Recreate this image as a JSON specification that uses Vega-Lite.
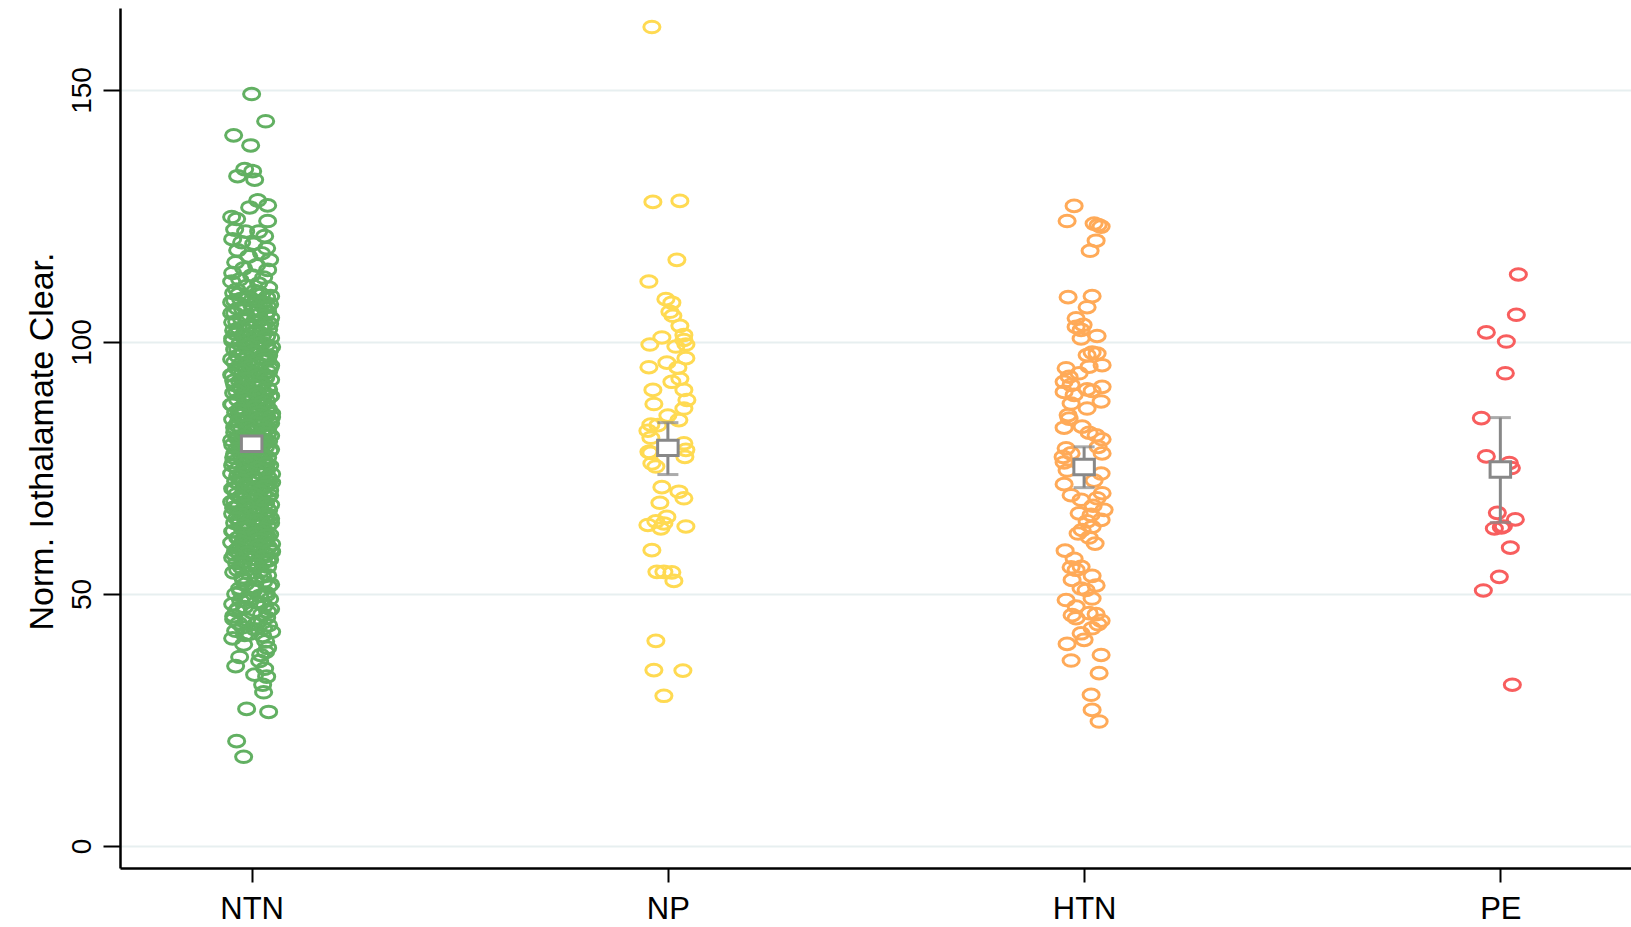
{
  "$schema": "https://vega.github.io/schema/vega-lite/v6.json",
  "width": 1512,
  "height": 860,
  "autosize": {"type": "none"},
  "padding": {"left": 120, "top": 8, "right": 0, "bottom": 59},
  "background": "white",
  "config": {
    "view": {"stroke": null},
    "font": "Liberation Sans",
    "axis": {"labelColor": "black", "titleColor": "black", "domainColor": "black", "tickColor": "black"}
  },
  "datasets": {
    "pts": [
      {"g":"NTN","v":149.2,"j":0},{"g":"NTN","v":143.8,"j":14},{"g":"NTN","v":141.0,"j":-18},{"g":"NTN","v":139.0,"j":-1},
      {"g":"NTN","v":134.3,"j":-7},{"g":"NTN","v":133.9,"j":1},{"g":"NTN","v":132.9,"j":-14},{"g":"NTN","v":132.2,"j":3},
      {"g":"NTN","v":128.1,"j":6},{"g":"NTN","v":127.1,"j":16},{"g":"NTN","v":126.7,"j":-2},{"g":"NTN","v":124.8,"j":-20},
      {"g":"NTN","v":124.4,"j":-15},{"g":"NTN","v":124.0,"j":16},{"g":"NTN","v":122.3,"j":-17},{"g":"NTN","v":121.9,"j":-6},
      {"g":"NTN","v":121.9,"j":7},{"g":"NTN","v":121.0,"j":13},{"g":"NTN","v":120.4,"j":-19},{"g":"NTN","v":119.8,"j":-10},
      {"g":"NTN","v":119.5,"j":2},{"g":"NTN","v":118.6,"j":15},{"g":"NTN","v":118.2,"j":-14},{"g":"NTN","v":117.6,"j":10},
      {"g":"NTN","v":117.0,"j":-3},{"g":"NTN","v":116.3,"j":18},{"g":"NTN","v":115.8,"j":-16},{"g":"NTN","v":115.2,"j":5},
      {"g":"NTN","v":114.6,"j":-8},{"g":"NTN","v":114.3,"j":16},{"g":"NTN","v":113.7,"j":-19},{"g":"NTN","v":113.2,"j":0},
      {"g":"NTN","v":112.8,"j":12},{"g":"NTN","v":112.4,"j":-12},{"g":"NTN","v":112.0,"j":-20},{"g":"NTN","v":111.6,"j":7},
      {"g":"NTN","v":111.1,"j":-5},{"g":"NTN","v":110.8,"j":17},{"g":"NTN","v":110.4,"j":-15},{"g":"NTN","v":110.1,"j":3},
      {"g":"NTN","v":109.7,"j":-18},{"g":"NTN","v":109.4,"j":10},{"g":"NTN","v":109.0,"j":-3},{"g":"NTN","v":108.8,"j":15},
      {"g":"NTN","v":108.5,"j":-11},{"g":"NTN","v":108.1,"j":5},{"g":"NTN","v":107.9,"j":-20},{"g":"NTN","v":107.5,"j":18},
      {"g":"NTN","v":107.2,"j":-7},{"g":"NTN","v":106.9,"j":12},{"g":"NTN","v":106.6,"j":-14},{"g":"NTN","v":106.3,"j":1},
      {"g":"NTN","v":106.0,"j":16},{"g":"NTN","v":105.7,"j":-17},{"g":"NTN","v":105.4,"j":7},{"g":"NTN","v":105.1,"j":-5},
      {"g":"NTN","v":104.8,"j":19},{"g":"NTN","v":104.5,"j":-10},{"g":"NTN","v":104.2,"j":3},{"g":"NTN","v":103.9,"j":-19},
      {"g":"NTN","v":103.6,"j":13},{"g":"NTN","v":103.3,"j":-2},{"g":"NTN","v":103.0,"j":9},{"g":"NTN","v":102.7,"j":-13},
      {"g":"NTN","v":102.5,"j":17},{"g":"NTN","v":102.2,"j":-6},{"g":"NTN","v":101.9,"j":4},{"g":"NTN","v":101.6,"j":-16},
      {"g":"NTN","v":101.3,"j":11},{"g":"NTN","v":101.1,"j":-9},{"g":"NTN","v":100.8,"j":19},{"g":"NTN","v":100.5,"j":-1},
      {"g":"NTN","v":100.2,"j":-19},{"g":"NTN","v":99.9,"j":8},{"g":"NTN","v":99.6,"j":-12},{"g":"NTN","v":99.4,"j":15},
      {"g":"NTN","v":99.1,"j":-4},{"g":"NTN","v":98.8,"j":6},{"g":"NTN","v":98.5,"j":-17},{"g":"NTN","v":98.3,"j":18},
      {"g":"NTN","v":98.0,"j":-8},{"g":"NTN","v":97.7,"j":1},{"g":"NTN","v":97.5,"j":12},{"g":"NTN","v":97.2,"j":-14},
      {"g":"NTN","v":96.9,"j":9},{"g":"NTN","v":96.6,"j":-20},{"g":"NTN","v":96.4,"j":16},{"g":"NTN","v":96.1,"j":-3},
      {"g":"NTN","v":95.8,"j":5},{"g":"NTN","v":95.6,"j":-11},{"g":"NTN","v":95.3,"j":19},{"g":"NTN","v":95.0,"j":-6},
      {"g":"NTN","v":94.8,"j":-15},{"g":"NTN","v":94.6,"j":8},{"g":"NTN","v":94.3,"j":-2},{"g":"NTN","v":94.1,"j":17},
      {"g":"NTN","v":93.9,"j":-9},{"g":"NTN","v":93.6,"j":12},{"g":"NTN","v":93.4,"j":-19},{"g":"NTN","v":93.2,"j":4},
      {"g":"NTN","v":92.9,"j":14},{"g":"NTN","v":92.7,"j":-6},{"g":"NTN","v":92.5,"j":19},{"g":"NTN","v":92.2,"j":-12},
      {"g":"NTN","v":92.0,"j":1},{"g":"NTN","v":91.8,"j":10},{"g":"NTN","v":91.5,"j":-17},{"g":"NTN","v":91.3,"j":6},
      {"g":"NTN","v":91.1,"j":-4},{"g":"NTN","v":90.8,"j":16},{"g":"NTN","v":90.6,"j":-10},{"g":"NTN","v":90.4,"j":11},
      {"g":"NTN","v":90.1,"j":3},{"g":"NTN","v":89.9,"j":-18},{"g":"NTN","v":89.7,"j":13},{"g":"NTN","v":89.5,"j":-7},
      {"g":"NTN","v":89.2,"j":18},{"g":"NTN","v":89.0,"j":-1},{"g":"NTN","v":88.8,"j":9},{"g":"NTN","v":88.5,"j":-14},
      {"g":"NTN","v":88.3,"j":15},{"g":"NTN","v":88.1,"j":-5},{"g":"NTN","v":87.8,"j":7},{"g":"NTN","v":87.6,"j":-20},
      {"g":"NTN","v":87.4,"j":11},{"g":"NTN","v":87.2,"j":0},{"g":"NTN","v":86.9,"j":-11},{"g":"NTN","v":86.7,"j":17},
      {"g":"NTN","v":86.5,"j":-8},{"g":"NTN","v":86.2,"j":5},{"g":"NTN","v":86.0,"j":-16},{"g":"NTN","v":85.8,"j":20},
      {"g":"NTN","v":85.6,"j":-12},{"g":"NTN","v":85.3,"j":15},{"g":"NTN","v":85.1,"j":-4},{"g":"NTN","v":84.9,"j":9},
      {"g":"NTN","v":84.6,"j":-19},{"g":"NTN","v":84.4,"j":2},{"g":"NTN","v":84.2,"j":18},{"g":"NTN","v":84.0,"j":-8},
      {"g":"NTN","v":83.7,"j":12},{"g":"NTN","v":83.5,"j":-15},{"g":"NTN","v":83.3,"j":6},{"g":"NTN","v":83.0,"j":-1},
      {"g":"NTN","v":82.8,"j":16},{"g":"NTN","v":82.6,"j":-10},{"g":"NTN","v":82.4,"j":3},{"g":"NTN","v":82.1,"j":-17},
      {"g":"NTN","v":81.9,"j":10},{"g":"NTN","v":81.7,"j":-6},{"g":"NTN","v":81.4,"j":19},{"g":"NTN","v":81.2,"j":-13},
      {"g":"NTN","v":81.0,"j":-15},{"g":"NTN","v":80.8,"j":8},{"g":"NTN","v":80.5,"j":-2},{"g":"NTN","v":80.3,"j":17},
      {"g":"NTN","v":80.1,"j":-9},{"g":"NTN","v":79.8,"j":12},{"g":"NTN","v":79.6,"j":-19},{"g":"NTN","v":79.4,"j":4},
      {"g":"NTN","v":79.2,"j":14},{"g":"NTN","v":78.9,"j":-6},{"g":"NTN","v":78.7,"j":19},{"g":"NTN","v":78.5,"j":-12},
      {"g":"NTN","v":78.2,"j":1},{"g":"NTN","v":78.0,"j":10},{"g":"NTN","v":77.8,"j":-17},{"g":"NTN","v":77.6,"j":6},
      {"g":"NTN","v":77.3,"j":-4},{"g":"NTN","v":77.1,"j":16},{"g":"NTN","v":76.9,"j":-10},{"g":"NTN","v":76.6,"j":11},
      {"g":"NTN","v":76.4,"j":3},{"g":"NTN","v":76.2,"j":-18},{"g":"NTN","v":76.0,"j":13},{"g":"NTN","v":75.7,"j":-7},
      {"g":"NTN","v":75.5,"j":18},{"g":"NTN","v":75.3,"j":-1},{"g":"NTN","v":75.0,"j":9},{"g":"NTN","v":74.8,"j":-14},
      {"g":"NTN","v":74.6,"j":15},{"g":"NTN","v":74.4,"j":-5},{"g":"NTN","v":74.1,"j":7},{"g":"NTN","v":73.9,"j":-20},
      {"g":"NTN","v":73.7,"j":11},{"g":"NTN","v":73.4,"j":0},{"g":"NTN","v":73.2,"j":-11},{"g":"NTN","v":73.0,"j":17},
      {"g":"NTN","v":72.8,"j":-8},{"g":"NTN","v":72.5,"j":5},{"g":"NTN","v":72.3,"j":-16},{"g":"NTN","v":72.1,"j":20},
      {"g":"NTN","v":71.8,"j":-12},{"g":"NTN","v":71.6,"j":15},{"g":"NTN","v":71.4,"j":-4},{"g":"NTN","v":71.2,"j":9},
      {"g":"NTN","v":70.9,"j":-19},{"g":"NTN","v":70.7,"j":2},{"g":"NTN","v":70.5,"j":18},{"g":"NTN","v":70.2,"j":-8},
      {"g":"NTN","v":70.0,"j":12},{"g":"NTN","v":69.8,"j":-15},{"g":"NTN","v":69.6,"j":6},{"g":"NTN","v":69.3,"j":-1},
      {"g":"NTN","v":69.1,"j":16},{"g":"NTN","v":68.9,"j":-10},{"g":"NTN","v":68.6,"j":3},{"g":"NTN","v":68.4,"j":-17},
      {"g":"NTN","v":68.2,"j":10},{"g":"NTN","v":68.0,"j":-6},{"g":"NTN","v":67.7,"j":19},{"g":"NTN","v":67.5,"j":-13},
      {"g":"NTN","v":67.3,"j":-15},{"g":"NTN","v":67.0,"j":8},{"g":"NTN","v":66.8,"j":-2},{"g":"NTN","v":66.6,"j":17},
      {"g":"NTN","v":66.4,"j":-9},{"g":"NTN","v":66.1,"j":12},{"g":"NTN","v":65.9,"j":-19},{"g":"NTN","v":65.7,"j":4},
      {"g":"NTN","v":65.4,"j":14},{"g":"NTN","v":65.2,"j":-6},{"g":"NTN","v":65.0,"j":19},{"g":"NTN","v":64.8,"j":-12},
      {"g":"NTN","v":64.5,"j":1},{"g":"NTN","v":64.3,"j":10},{"g":"NTN","v":64.1,"j":-17},{"g":"NTN","v":63.8,"j":6},
      {"g":"NTN","v":63.6,"j":-4},{"g":"NTN","v":63.4,"j":16},{"g":"NTN","v":63.2,"j":-10},{"g":"NTN","v":62.9,"j":11},
      {"g":"NTN","v":62.7,"j":3},{"g":"NTN","v":62.5,"j":-18},{"g":"NTN","v":62.2,"j":13},{"g":"NTN","v":62.0,"j":-7},
      {"g":"NTN","v":61.8,"j":18},{"g":"NTN","v":61.6,"j":-1},{"g":"NTN","v":61.3,"j":9},{"g":"NTN","v":61.1,"j":-14},
      {"g":"NTN","v":60.9,"j":15},{"g":"NTN","v":60.6,"j":-5},{"g":"NTN","v":60.4,"j":7},{"g":"NTN","v":60.2,"j":-20},
      {"g":"NTN","v":60.0,"j":11},{"g":"NTN","v":59.7,"j":0},{"g":"NTN","v":59.5,"j":-11},{"g":"NTN","v":59.3,"j":17},
      {"g":"NTN","v":59.0,"j":-8},{"g":"NTN","v":58.8,"j":5},{"g":"NTN","v":58.6,"j":-16},{"g":"NTN","v":58.4,"j":20},
      {"g":"NTN","v":58.1,"j":-12},{"g":"NTN","v":57.9,"j":15},{"g":"NTN","v":57.7,"j":-4},{"g":"NTN","v":57.4,"j":9},
      {"g":"NTN","v":57.2,"j":-19},{"g":"NTN","v":57.0,"j":2},{"g":"NTN","v":56.8,"j":18},{"g":"NTN","v":56.5,"j":-8},
      {"g":"NTN","v":56.3,"j":12},{"g":"NTN","v":56.1,"j":-15},{"g":"NTN","v":55.8,"j":6},{"g":"NTN","v":55.6,"j":-1},
      {"g":"NTN","v":55.4,"j":16},{"g":"NTN","v":55.2,"j":-10},
      {"g":"NTN","v":109.9,"j":7},{"g":"NTN","v":109.5,"j":-13},{"g":"NTN","v":109.1,"j":19},{"g":"NTN","v":108.6,"j":-4},
      {"g":"NTN","v":108.2,"j":-17},{"g":"NTN","v":107.8,"j":12},{"g":"NTN","v":107.4,"j":0},{"g":"NTN","v":107.0,"j":16},
      {"g":"NTN","v":106.5,"j":-9},{"g":"NTN","v":106.1,"j":5},{"g":"NTN","v":105.7,"j":-20},{"g":"NTN","v":105.3,"j":14},
      {"g":"NTN","v":104.9,"j":-6},{"g":"NTN","v":104.4,"j":9},{"g":"NTN","v":104.0,"j":-15},{"g":"NTN","v":103.6,"j":18},
      {"g":"NTN","v":103.2,"j":-2},{"g":"NTN","v":102.8,"j":11},{"g":"NTN","v":102.3,"j":-18},{"g":"NTN","v":101.9,"j":3},
      {"g":"NTN","v":101.5,"j":-8},{"g":"NTN","v":101.1,"j":15},{"g":"NTN","v":100.7,"j":-19},{"g":"NTN","v":100.2,"j":6},
      {"g":"NTN","v":99.8,"j":11},{"g":"NTN","v":99.4,"j":-3},{"g":"NTN","v":99.0,"j":20},{"g":"NTN","v":98.6,"j":-14},
      {"g":"NTN","v":98.1,"j":2},{"g":"NTN","v":97.7,"j":-10},{"g":"NTN","v":97.3,"j":17},{"g":"NTN","v":96.9,"j":-6},
      {"g":"NTN","v":96.5,"j":13},{"g":"NTN","v":96.0,"j":-17},{"g":"NTN","v":95.6,"j":8},{"g":"NTN","v":95.2,"j":-1},
      {"g":"NTN","v":94.8,"j":18},{"g":"NTN","v":94.4,"j":-12},{"g":"NTN","v":93.9,"j":4},{"g":"NTN","v":93.5,"j":-20},
      {"g":"NTN","v":93.1,"j":14},{"g":"NTN","v":92.7,"j":-5},{"g":"NTN","v":92.3,"j":-18},{"g":"NTN","v":91.8,"j":9},
      {"g":"NTN","v":91.4,"j":1},{"g":"NTN","v":91.0,"j":-11},{"g":"NTN","v":90.6,"j":17},{"g":"NTN","v":90.2,"j":-15},
      {"g":"NTN","v":89.7,"j":6},{"g":"NTN","v":89.3,"j":19},{"g":"NTN","v":88.9,"j":-7},{"g":"NTN","v":88.5,"j":-2},
      {"g":"NTN","v":88.1,"j":12},{"g":"NTN","v":87.6,"j":-19},{"g":"NTN","v":87.2,"j":4},{"g":"NTN","v":86.8,"j":15},
      {"g":"NTN","v":86.4,"j":-13},{"g":"NTN","v":86.0,"j":8},{"g":"NTN","v":85.5,"j":-9},{"g":"NTN","v":85.1,"j":20},
      {"g":"NTN","v":84.7,"j":7},{"g":"NTN","v":84.3,"j":-13},{"g":"NTN","v":83.9,"j":19},{"g":"NTN","v":83.4,"j":-4},
      {"g":"NTN","v":83.0,"j":-17},{"g":"NTN","v":82.6,"j":12},{"g":"NTN","v":82.2,"j":0},{"g":"NTN","v":81.8,"j":16},
      {"g":"NTN","v":81.3,"j":-9},{"g":"NTN","v":80.9,"j":5},{"g":"NTN","v":80.5,"j":-20},{"g":"NTN","v":80.1,"j":14},
      {"g":"NTN","v":79.7,"j":-6},{"g":"NTN","v":79.2,"j":9},{"g":"NTN","v":78.8,"j":-15},{"g":"NTN","v":78.4,"j":18},
      {"g":"NTN","v":78.0,"j":-2},{"g":"NTN","v":77.6,"j":11},{"g":"NTN","v":77.1,"j":-18},{"g":"NTN","v":76.7,"j":3},
      {"g":"NTN","v":76.3,"j":-8},{"g":"NTN","v":75.9,"j":15},{"g":"NTN","v":75.5,"j":-19},{"g":"NTN","v":75.0,"j":6},
      {"g":"NTN","v":74.6,"j":11},{"g":"NTN","v":74.2,"j":-3},{"g":"NTN","v":73.8,"j":20},{"g":"NTN","v":73.4,"j":-14},
      {"g":"NTN","v":72.9,"j":2},{"g":"NTN","v":72.5,"j":-10},{"g":"NTN","v":72.1,"j":17},{"g":"NTN","v":71.7,"j":-6},
      {"g":"NTN","v":71.3,"j":13},{"g":"NTN","v":70.8,"j":-17},{"g":"NTN","v":70.4,"j":8},{"g":"NTN","v":70.0,"j":-1},
      {"g":"NTN","v":69.6,"j":18},{"g":"NTN","v":69.2,"j":-12},{"g":"NTN","v":68.7,"j":4},{"g":"NTN","v":68.3,"j":-20},
      {"g":"NTN","v":67.9,"j":14},{"g":"NTN","v":67.5,"j":-5},{"g":"NTN","v":67.1,"j":-18},{"g":"NTN","v":66.6,"j":9},
      {"g":"NTN","v":66.2,"j":1},{"g":"NTN","v":65.8,"j":-11},{"g":"NTN","v":65.4,"j":17},{"g":"NTN","v":65.0,"j":-15},
      {"g":"NTN","v":64.5,"j":6},{"g":"NTN","v":64.1,"j":19},{"g":"NTN","v":63.7,"j":-7},{"g":"NTN","v":63.3,"j":-2},
      {"g":"NTN","v":62.9,"j":12},{"g":"NTN","v":62.4,"j":-19},{"g":"NTN","v":62.0,"j":4},{"g":"NTN","v":61.6,"j":15},
      {"g":"NTN","v":61.2,"j":-13},{"g":"NTN","v":60.8,"j":8},{"g":"NTN","v":60.3,"j":-9},{"g":"NTN","v":59.9,"j":20},
      {"g":"NTN","v":59.5,"j":7},{"g":"NTN","v":59.1,"j":-13},{"g":"NTN","v":58.7,"j":19},{"g":"NTN","v":58.2,"j":-4},
      {"g":"NTN","v":57.8,"j":-17},{"g":"NTN","v":57.4,"j":12},{"g":"NTN","v":57.0,"j":0},{"g":"NTN","v":56.6,"j":16},
      {"g":"NTN","v":56.1,"j":-9},{"g":"NTN","v":55.7,"j":5},
      {"g":"NTN","v":54.8,"j":-14},{"g":"NTN","v":54.5,"j":9},{"g":"NTN","v":54.1,"j":-3},{"g":"NTN","v":53.7,"j":16},
      {"g":"NTN","v":53.3,"j":-9},{"g":"NTN","v":52.9,"j":4},{"g":"NTN","v":52.4,"j":12},{"g":"NTN","v":52.0,"j":-6},
      {"g":"NTN","v":51.5,"j":17},{"g":"NTN","v":51.1,"j":-12},{"g":"NTN","v":50.7,"j":2},{"g":"NTN","v":50.3,"j":14},
      {"g":"NTN","v":50.0,"j":-16},{"g":"NTN","v":49.6,"j":8},{"g":"NTN","v":49.3,"j":-4},{"g":"NTN","v":49.0,"j":18},
      {"g":"NTN","v":48.7,"j":-11},{"g":"NTN","v":48.4,"j":5},{"g":"NTN","v":48.0,"j":-19},{"g":"NTN","v":47.7,"j":13},
      {"g":"NTN","v":47.4,"j":-7},{"g":"NTN","v":47.0,"j":19},{"g":"NTN","v":46.7,"j":-15},{"g":"NTN","v":46.3,"j":1},
      {"g":"NTN","v":46.0,"j":10},{"g":"NTN","v":45.6,"j":-18},{"g":"NTN","v":45.3,"j":15},{"g":"NTN","v":44.9,"j":-5},
      {"g":"NTN","v":44.5,"j":7},{"g":"NTN","v":44.2,"j":-13},{"g":"NTN","v":43.8,"j":17},{"g":"NTN","v":43.4,"j":-9},
      {"g":"NTN","v":43.0,"j":3},{"g":"NTN","v":42.7,"j":-16},{"g":"NTN","v":42.5,"j":20},{"g":"NTN","v":42.1,"j":-2},
      {"g":"NTN","v":41.7,"j":11},{"g":"NTN","v":41.2,"j":-19},{"g":"NTN","v":40.6,"j":14},{"g":"NTN","v":40.0,"j":-8},
      {"g":"NTN","v":54.3,"j":-18},{"g":"NTN","v":53.5,"j":11},{"g":"NTN","v":52.7,"j":-8},{"g":"NTN","v":51.9,"j":19},
      {"g":"NTN","v":51.3,"j":3},{"g":"NTN","v":50.5,"j":-11},{"g":"NTN","v":49.8,"j":15},{"g":"NTN","v":48.9,"j":-2},
      {"g":"NTN","v":48.2,"j":9},{"g":"NTN","v":47.2,"j":-13},{"g":"NTN","v":46.5,"j":16},{"g":"NTN","v":45.0,"j":-18},
      {"g":"NTN","v":44.0,"j":4},{"g":"NTN","v":43.2,"j":12},{"g":"NTN","v":41.9,"j":-7},
      {"g":"NTN","v":39.3,"j":16},{"g":"NTN","v":38.5,"j":14},{"g":"NTN","v":37.9,"j":9},{"g":"NTN","v":37.5,"j":-12},
      {"g":"NTN","v":36.7,"j":8},{"g":"NTN","v":35.7,"j":-16},{"g":"NTN","v":35.2,"j":13},{"g":"NTN","v":34.0,"j":3},
      {"g":"NTN","v":33.6,"j":15},{"g":"NTN","v":32.0,"j":11},{"g":"NTN","v":30.5,"j":12},{"g":"NTN","v":27.2,"j":-5},
      {"g":"NTN","v":26.6,"j":17},{"g":"NTN","v":20.8,"j":-15},{"g":"NTN","v":17.7,"j":-8},

      {"g":"NP","v":162.5,"j":-16},{"g":"NP","v":127.8,"j":-15},{"g":"NP","v":128.0,"j":12},{"g":"NP","v":116.3,"j":9},
      {"g":"NP","v":112.0,"j":-19},{"g":"NP","v":108.5,"j":-2},{"g":"NP","v":107.8,"j":4},{"g":"NP","v":106.0,"j":2},
      {"g":"NP","v":105.2,"j":5},{"g":"NP","v":103.2,"j":12},{"g":"NP","v":101.4,"j":16},{"g":"NP","v":100.9,"j":-6},
      {"g":"NP","v":99.5,"j":-18},{"g":"NP","v":100.4,"j":16},{"g":"NP","v":99.5,"j":18},{"g":"NP","v":99.1,"j":8},
      {"g":"NP","v":96.8,"j":18},{"g":"NP","v":95.9,"j":-1},{"g":"NP","v":95.0,"j":-19},{"g":"NP","v":94.9,"j":10},
      {"g":"NP","v":92.7,"j":12},{"g":"NP","v":92.1,"j":4},{"g":"NP","v":90.5,"j":-15},{"g":"NP","v":90.5,"j":16},
      {"g":"NP","v":88.5,"j":19},{"g":"NP","v":87.7,"j":-14},{"g":"NP","v":86.8,"j":16},{"g":"NP","v":85.4,"j":0},
      {"g":"NP","v":84.5,"j":11},{"g":"NP","v":83.6,"j":-17},{"g":"NP","v":83.5,"j":-10},{"g":"NP","v":82.4,"j":-20},
      {"g":"NP","v":81.0,"j":-17},{"g":"NP","v":79.9,"j":16},{"g":"NP","v":78.6,"j":18},{"g":"NP","v":78.2,"j":-19},
      {"g":"NP","v":78.0,"j":-17},{"g":"NP","v":77.2,"j":17},{"g":"NP","v":75.9,"j":-16},{"g":"NP","v":75.3,"j":-12},
      {"g":"NP","v":71.2,"j":-6},{"g":"NP","v":70.3,"j":11},{"g":"NP","v":69.0,"j":16},{"g":"NP","v":68.1,"j":-8},
      {"g":"NP","v":65.3,"j":-1},{"g":"NP","v":64.4,"j":-12},{"g":"NP","v":63.7,"j":-20},{"g":"NP","v":64.0,"j":-4},
      {"g":"NP","v":63.0,"j":-7},{"g":"NP","v":63.4,"j":18},{"g":"NP","v":58.7,"j":-16},{"g":"NP","v":54.4,"j":-11},
      {"g":"NP","v":54.4,"j":-4},{"g":"NP","v":54.3,"j":4},{"g":"NP","v":52.6,"j":6},{"g":"NP","v":40.7,"j":-12},
      {"g":"NP","v":34.9,"j":-14},{"g":"NP","v":34.8,"j":15},{"g":"NP","v":29.8,"j":-4},

      {"g":"HTN","v":127.0,"j":-10},{"g":"HTN","v":124.0,"j":-17},{"g":"HTN","v":123.5,"j":10},{"g":"HTN","v":123.2,"j":14},
      {"g":"HTN","v":122.9,"j":17},{"g":"HTN","v":120.1,"j":12},{"g":"HTN","v":118.1,"j":6},{"g":"HTN","v":108.9,"j":-16},
      {"g":"HTN","v":109.1,"j":8},{"g":"HTN","v":106.9,"j":3},{"g":"HTN","v":104.7,"j":-8},{"g":"HTN","v":103.4,"j":-1},
      {"g":"HTN","v":103.0,"j":-8},{"g":"HTN","v":102.4,"j":-3},{"g":"HTN","v":101.2,"j":13},{"g":"HTN","v":100.7,"j":-3},
      {"g":"HTN","v":97.9,"j":8},{"g":"HTN","v":97.4,"j":3},{"g":"HTN","v":97.7,"j":13},{"g":"HTN","v":95.4,"j":18},
      {"g":"HTN","v":94.8,"j":-18},{"g":"HTN","v":95.1,"j":5},{"g":"HTN","v":93.8,"j":-5},{"g":"HTN","v":93.1,"j":-15},
      {"g":"HTN","v":92.1,"j":-20},{"g":"HTN","v":91.5,"j":-13},{"g":"HTN","v":91.1,"j":18},{"g":"HTN","v":90.6,"j":3},
      {"g":"HTN","v":90.1,"j":-20},{"g":"HTN","v":89.5,"j":-10},{"g":"HTN","v":90.3,"j":8},{"g":"HTN","v":88.2,"j":17},
      {"g":"HTN","v":87.8,"j":-13},{"g":"HTN","v":86.8,"j":3},{"g":"HTN","v":85.5,"j":-16},{"g":"HTN","v":84.8,"j":-15},
      {"g":"HTN","v":83.0,"j":-20},{"g":"HTN","v":83.2,"j":-2},{"g":"HTN","v":82.0,"j":5},{"g":"HTN","v":81.5,"j":12},
      {"g":"HTN","v":80.7,"j":18},{"g":"HTN","v":78.9,"j":-18},{"g":"HTN","v":79.2,"j":14},{"g":"HTN","v":77.9,"j":-13},
      {"g":"HTN","v":77.9,"j":18},{"g":"HTN","v":77.2,"j":-21},{"g":"HTN","v":76.1,"j":-20},{"g":"HTN","v":74.5,"j":-17},
      {"g":"HTN","v":73.9,"j":17},{"g":"HTN","v":72.5,"j":10},{"g":"HTN","v":71.8,"j":-20},{"g":"HTN","v":69.6,"j":-13},
      {"g":"HTN","v":70.0,"j":18},{"g":"HTN","v":68.7,"j":-3},{"g":"HTN","v":69.0,"j":13},{"g":"HTN","v":67.5,"j":9},
      {"g":"HTN","v":66.7,"j":20},{"g":"HTN","v":66.0,"j":-5},{"g":"HTN","v":65.7,"j":7},{"g":"HTN","v":64.7,"j":17},
      {"g":"HTN","v":64.4,"j":3},{"g":"HTN","v":62.7,"j":-2},{"g":"HTN","v":63.3,"j":8},{"g":"HTN","v":62.0,"j":-6},
      {"g":"HTN","v":61.2,"j":5},{"g":"HTN","v":60.0,"j":11},{"g":"HTN","v":58.6,"j":-19},{"g":"HTN","v":57.0,"j":-10},
      {"g":"HTN","v":55.3,"j":-13},{"g":"HTN","v":54.8,"j":-8},{"g":"HTN","v":55.4,"j":-3},{"g":"HTN","v":53.6,"j":8},
      {"g":"HTN","v":52.8,"j":-12},{"g":"HTN","v":51.7,"j":12},{"g":"HTN","v":51.1,"j":-3},{"g":"HTN","v":50.8,"j":2},
      {"g":"HTN","v":49.1,"j":8},{"g":"HTN","v":48.8,"j":-18},{"g":"HTN","v":47.5,"j":-8},{"g":"HTN","v":46.2,"j":5},
      {"g":"HTN","v":46.0,"j":12},{"g":"HTN","v":45.8,"j":-12},{"g":"HTN","v":45.2,"j":-8},{"g":"HTN","v":44.7,"j":17},
      {"g":"HTN","v":44.0,"j":14},{"g":"HTN","v":43.2,"j":8},{"g":"HTN","v":42.2,"j":-3},{"g":"HTN","v":40.9,"j":0},
      {"g":"HTN","v":40.1,"j":-17},{"g":"HTN","v":37.9,"j":17},{"g":"HTN","v":36.8,"j":-13},{"g":"HTN","v":34.3,"j":15},
      {"g":"HTN","v":30.0,"j":7},{"g":"HTN","v":27.0,"j":8},{"g":"HTN","v":24.7,"j":15},

      {"g":"PE","v":113.4,"j":18},{"g":"PE","v":105.4,"j":16},{"g":"PE","v":101.9,"j":-14},{"g":"PE","v":100.1,"j":6},
      {"g":"PE","v":93.8,"j":5},{"g":"PE","v":84.9,"j":-19},{"g":"PE","v":77.3,"j":-14},{"g":"PE","v":76.0,"j":9},
      {"g":"PE","v":75.0,"j":11},{"g":"PE","v":66.1,"j":-3},{"g":"PE","v":63.0,"j":-6},{"g":"PE","v":63.2,"j":1},
      {"g":"PE","v":63.4,"j":3},{"g":"PE","v":64.8,"j":15},{"g":"PE","v":59.2,"j":10},{"g":"PE","v":53.4,"j":-1},
      {"g":"PE","v":50.7,"j":-17},{"g":"PE","v":32.0,"j":12}
    ],
    "stats": [
      {"g":"NTN","m":79.8,"lo":78.6,"hi":81.0},
      {"g":"NP","m":79.0,"lo":73.7,"hi":84.0},
      {"g":"HTN","m":75.2,"lo":71.1,"hi":79.2},
      {"g":"PE","m":74.7,"lo":64.2,"hi":85.0}
    ]
  },
  "layer": [
    {
      "data": {"name": "pts"},
      "mark": {
        "type": "point",
        "shape": "M -1 0 A 1 0.72 0 1 0 1 0 A 1 0.72 0 1 0 -1 0 Z",
        "filled": false,
        "size": 260,
        "strokeWidth": 3,
        "opacity": 1
      },
      "encoding": {
        "x": {
          "field": "g", "type": "nominal",
          "scale": {"type": "point", "domain": ["NTN","NP","HTN","PE"], "padding": 0.3163},
          "axis": {
            "title": null, "labelAngle": 0, "labelFontSize": 31, "labelPadding": 36,
            "labelBaseline": "alphabetic", "tickSize": 14, "tickWidth": 2, "domainWidth": 2.5, "grid": false
          }
        },
        "xOffset": {"field": "j", "type": "quantitative", "scale": {"domain": [-20, 20], "range": [-20, 20]}},
        "y": {
          "field": "v", "type": "quantitative",
          "scale": {"domain": [-4.365, 166.27], "nice": false, "zero": false},
          "axis": {
            "values": [0, 50, 100, 150], "grid": true, "gridColor": "#e7eff0", "gridWidth": 2,
            "domainWidth": 2.5, "tickSize": 17, "tickWidth": 2,
            "labelAngle": -90, "labelFontSize": 28, "labelPadding": 13, "labelAlign": "center", "labelBaseline": "alphabetic",
            "title": "Norm. Iothalamate Clear.", "titleFontSize": 34, "titleFontWeight": "normal",
            "titleAngle": -90, "titleX": -68, "titleY": 433, "titleAlign": "center", "titleBaseline": "alphabetic"
          }
        },
        "color": {
          "field": "g", "type": "nominal",
          "scale": {"domain": ["NTN","NP","HTN","PE"], "range": ["#62b062","#ffda52","#ffaa58","#f85e5e"]},
          "legend": null
        }
      }
    },
    {
      "data": {"name": "stats"},
      "mark": {"type": "rule", "color": "#888888", "strokeWidth": 3},
      "encoding": {
        "x": {"field": "g", "type": "nominal"},
        "y": {"field": "lo", "type": "quantitative"},
        "y2": {"field": "hi"}
      }
    },
    {
      "data": {"name": "stats"},
      "mark": {"type": "tick", "orient": "horizontal", "color": "#888888", "size": 21, "thickness": 3},
      "encoding": {
        "x": {"field": "g", "type": "nominal"},
        "y": {"field": "lo", "type": "quantitative"}
      }
    },
    {
      "data": {"name": "stats"},
      "mark": {"type": "tick", "orient": "horizontal", "color": "#888888", "size": 21, "thickness": 3},
      "encoding": {
        "x": {"field": "g", "type": "nominal"},
        "y": {"field": "hi", "type": "quantitative"}
      }
    },
    {
      "data": {"name": "stats"},
      "mark": {
        "type": "point",
        "shape": "M -1 -0.75 L 1 -0.75 L 1 0.75 L -1 0.75 Z",
        "filled": false, "fill": "white", "fillOpacity": 1,
        "stroke": "#888888", "strokeWidth": 3, "size": 420, "opacity": 1
      },
      "encoding": {
        "x": {"field": "g", "type": "nominal"},
        "y": {"field": "m", "type": "quantitative"}
      }
    }
  ]
}
